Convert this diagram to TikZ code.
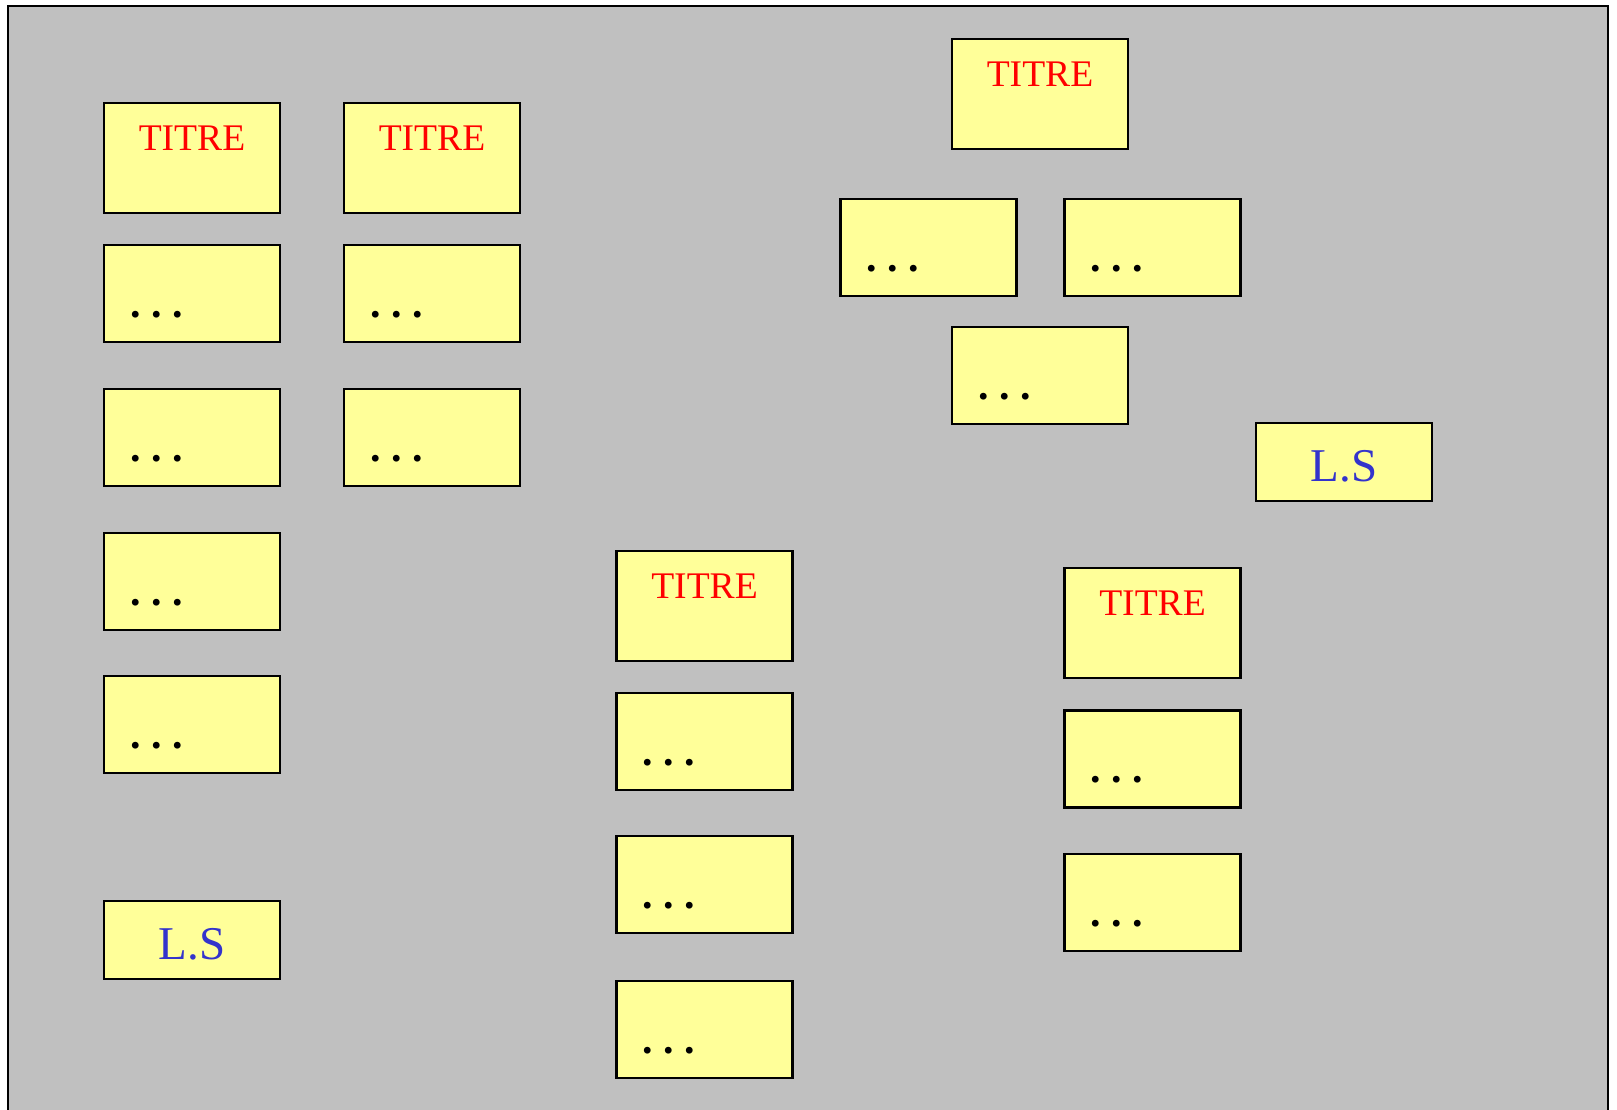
\documentclass[tikz,border=0pt]{standalone}
\usepackage{fontspec}
\setmainfont{Liberation Serif}
\definecolor{bggray}{HTML}{C0C0C0}
\definecolor{boxyellow}{HTML}{FFFF99}
\definecolor{titred}{HTML}{FF0000}
\definecolor{lsblue}{HTML}{3333CC}
\tikzset{
  card/.style={draw=black, line width=1.1pt, fill=boxyellow, anchor=north west,
    minimum width=88pt, inner sep=0pt, outer sep=0pt},
  titlecard/.style={card, minimum height=55pt},
  dotcard/.style={card, minimum height=48.5pt},
  lscard/.style={card, minimum height=39pt},
  titletext/.style={anchor=base, text=titred, font=\fontsize{18.8}{20}\selectfont, inner sep=0pt},
  dottext/.style={anchor=base west, font=\bfseries\fontsize{21}{24}\selectfont, inner sep=0pt},
  lstext/.style={anchor=base, text=lsblue, font=\fontsize{23.5}{26}\selectfont, inner sep=0pt}
}
\newcommand{\titrebox}[3]{%
  \node[titlecard] (#1) at (#2,#3) {};
  \node[titletext] (#1-t) at ([yshift=-23.5pt]#1.north) {TITRE};}
\newcommand{\dotbox}[3]{%
  \node[dotcard] (#1) at (#2,#3) {};
  \node[dottext] (#1-t) at ([xshift=13pt,yshift=-36pt]#1.north west) {.~.~.};}
\newcommand{\lsbox}[3]{%
  \node[lscard] (#1) at (#2,#3) {};
  \node[lstext] (#1-t) at ([yshift=-29pt]#1.north) {L.S};}
\begin{document}
\begin{tikzpicture}[x=0.5pt,y=-0.5pt]
\useasboundingbox (0,0) rectangle (1617,1109);
\fill[white] (0,0) rectangle (1617,1109);
\fill[bggray] (8,6) rectangle (1608,1115);
\draw[line width=1pt] (8,1115) -- (8,6) -- (1608,6) -- (1608,1115);
% column 1
\titrebox{a0}{104}{103}
\dotbox{a1}{104}{245}
\dotbox{a2}{104}{389}
\dotbox{a3}{104}{533}
\dotbox{a4}{104}{676}
\lsbox{a5}{104}{901}
% column 2
\titrebox{b0}{344}{103}
\dotbox{b1}{344}{245}
\dotbox{b2}{344}{389}
% column 3
\titrebox{c0}{616.5}{551}
\dotbox{c1}{616.5}{693}
\dotbox{c2}{616.5}{836}
\dotbox{c3}{616.5}{981}
% top group
\titrebox{d0}{952}{39}
\dotbox{d1}{840.5}{199}
\dotbox{d2}{1064.5}{199}
\dotbox{d3}{952}{327}
\lsbox{e0}{1256}{423}
% right column
\titrebox{f0}{1064.5}{568}
\dotbox{f1}{1064.5}{710.5}
\dotbox{f2}{1064.5}{854}
\end{tikzpicture}
\end{document}
